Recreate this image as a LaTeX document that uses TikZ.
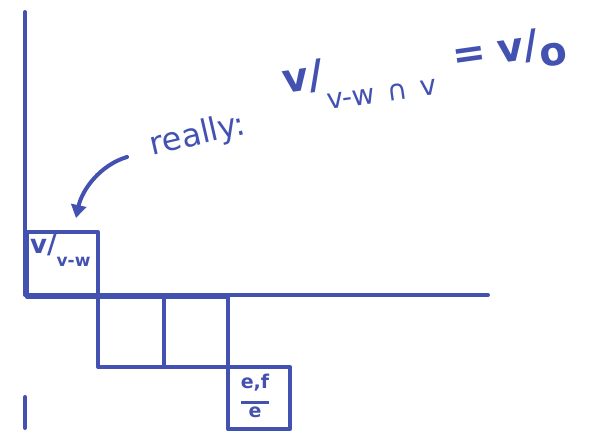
\documentclass[tikz,border=0pt]{standalone}
\usepackage{fontspec}
\setmainfont{DejaVu Sans}
\usetikzlibrary{arrows.meta}
\definecolor{ink}{HTML}{4352B0}
\begin{document}
\begin{tikzpicture}[x=1pt,y=-1pt,
  pen/.style={draw=ink,line width=4pt,line cap=round,line join=round},
  ink text/.style={text=ink,inner sep=0pt}]
\useasboundingbox (0,0) rectangle (605,432);
% axes
\coordinate (vtop) at (25,12);
\coordinate (orig) at (25,295);
\coordinate (hend) at (488,295);
\coordinate (vlow1) at (25,397);
\coordinate (vlow2) at (25,428);
\draw[pen] (vtop) -- (orig) -- (hend);
\draw[pen] (vlow1) -- (vlow2);
% boxes
\node[pen,minimum width=71pt,minimum height=65pt,anchor=north west,inner sep=0pt] (b1) at (25,230) {};
\node[pen,minimum width=66pt,minimum height=70pt,anchor=north west,inner sep=0pt] (b2) at (96,295) {};
\node[pen,minimum width=64pt,minimum height=70pt,anchor=north west,inner sep=0pt] (b3) at (162,295) {};
\node[pen,minimum width=62pt,minimum height=62pt,anchor=north west,inner sep=0pt] (b4) at (226,365) {};
% box labels
\node[ink text,font=\bfseries\fontsize{26}{26}\selectfont,anchor=north west] (l1) at (30,234) {v/\raisebox{-0.5em}{\fontsize{17}{17}\selectfont v-w}};
\node[ink text,font=\bfseries\fontsize{19}{19}\selectfont,align=center] (l4) at (255,396) {e,f\\[-4pt]\rule{28pt}{2.2pt}\\[-5pt]e};
% annotations
\node[ink text,font=\fontsize{32}{32}\selectfont,rotate=13] (really) at (198,136) {really:};
\node[ink text,font=\bfseries\fontsize{40}{40}\selectfont,rotate=8,anchor=west] (eq) at (284,90)
  {v/\raisebox{-0.55em}{\mdseries\fontsize{28}{28}\selectfont v-w\hspace{0.45em}∩\hspace{0.45em}v}\hspace{0.5em}=\hspace{0.3em}v/\raisebox{-0.25em}{o}};
% arrow
\coordinate (as) at (127,157);
\coordinate (ae) at (76,218);
\draw[pen,-{Stealth[length=13pt,width=15pt,inset=0pt]}] (as) .. controls (100,165) and (82,190) .. (ae);
\end{tikzpicture}
\end{document}
